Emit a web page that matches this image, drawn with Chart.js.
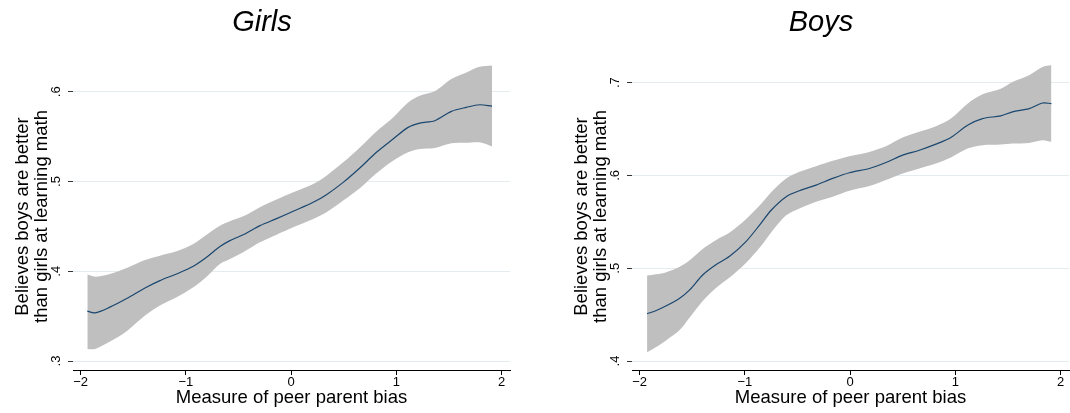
<!DOCTYPE html>
<html>
<head>
<meta charset="utf-8">
<script src="https://cdn.jsdelivr.net/npm/chart.js@4.4.1/dist/chart.umd.min.js"></script>
<style>
  html, body { margin: 0; padding: 0; background: #fff; }
  body { width: 1070px; height: 413px; overflow: hidden; position: relative; font-family: "Liberation Sans", Arial, Helvetica, sans-serif; }
  .panel { position: absolute; top: 0; width: 520px; height: 413px; }
  .panel canvas { position: absolute; left: 0; top: 0; }
  .ptitle { position: absolute; top: 7px; left: 162px; width: 200px; text-align: center; font-style: italic; font-size: 29px; line-height: 29px; color: #000; }
</style>
</head>
<body>
<div class="panel" style="left:0px;">
  <canvas id="girls" width="520" height="413"></canvas>
  <div class="ptitle">Girls</div>
</div>
<div class="panel" style="left:559px;">
  <canvas id="boys" width="520" height="413"></canvas>
  <div class="ptitle">Boys</div>
</div>
<script>
// ---- Data ----
const xTickValues = [-2, -1, 0, 1, 2];
const xTickLabels = ['\u22122', '\u22121', '0', '1', '2'];
const girlsYTicks = [0.3, 0.4, 0.5, 0.6];
const boysYTicks = [0.4, 0.5, 0.6, 0.7];

const xTitle = 'Measure of peer parent bias';
const yTitle = ['Believes boys are better', 'than girls at learning math'];

const girlsX = [-1.937, -1.864, -1.722, -1.563, -1.389, -1.247, -1.089, -0.930, -0.804, -0.677, -0.582, -0.440, -0.297, -0.139, 0.019, 0.209, 0.335, 0.494, 0.652, 0.810, 0.968, 1.111, 1.222, 1.364, 1.522, 1.665, 1.791, 1.908];
const girlsFit = [0.3555, 0.3536, 0.3600, 0.3696, 0.3814, 0.3896, 0.3970, 0.4056, 0.4156, 0.4275, 0.4341, 0.4416, 0.4508, 0.4586, 0.4668, 0.4768, 0.4853, 0.4990, 0.5150, 0.5325, 0.5473, 0.5603, 0.5651, 0.5677, 0.5781, 0.5826, 0.5855, 0.5840];
const girlsUpper = [0.3963, 0.3940, 0.3970, 0.4037, 0.4126, 0.4174, 0.4223, 0.4304, 0.4408, 0.4508, 0.4557, 0.4620, 0.4712, 0.4798, 0.4879, 0.4972, 0.5065, 0.5213, 0.5380, 0.5558, 0.5714, 0.5881, 0.5955, 0.6004, 0.6141, 0.6215, 0.6278, 0.6293];
const girlsLower = [0.3135, 0.3135, 0.3217, 0.3332, 0.3506, 0.3618, 0.3710, 0.3822, 0.3940, 0.4082, 0.4137, 0.4223, 0.4323, 0.4408, 0.4490, 0.4583, 0.4657, 0.4787, 0.4924, 0.5091, 0.5232, 0.5325, 0.5362, 0.5373, 0.5425, 0.5432, 0.5436, 0.5391];

const boysX = [-1.930, -1.842, -1.747, -1.620, -1.525, -1.399, -1.273, -1.146, -0.988, -0.861, -0.751, -0.608, -0.482, -0.324, -0.166, -0.008, 0.182, 0.340, 0.498, 0.657, 0.815, 0.957, 1.115, 1.257, 1.431, 1.542, 1.700, 1.827, 1.912];
const boysFit = [0.4509, 0.4545, 0.4595, 0.4677, 0.4767, 0.4930, 0.5040, 0.5128, 0.5290, 0.5465, 0.5625, 0.5771, 0.5835, 0.5896, 0.5968, 0.6029, 0.6075, 0.6140, 0.6219, 0.6272, 0.6337, 0.6409, 0.6541, 0.6613, 0.6642, 0.6685, 0.6720, 0.6781, 0.6774];
const boysUpper = [0.4921, 0.4935, 0.4957, 0.5015, 0.5085, 0.5210, 0.5305, 0.5385, 0.5530, 0.5675, 0.5820, 0.5968, 0.6039, 0.6100, 0.6158, 0.6208, 0.6254, 0.6315, 0.6409, 0.6470, 0.6530, 0.6613, 0.6774, 0.6875, 0.6935, 0.7007, 0.7079, 0.7168, 0.7190];
const boysLower = [0.4093, 0.4151, 0.4225, 0.4334, 0.4470, 0.4650, 0.4790, 0.4900, 0.5060, 0.5220, 0.5385, 0.5570, 0.5645, 0.5717, 0.5771, 0.5835, 0.5885, 0.5950, 0.6022, 0.6075, 0.6129, 0.6194, 0.6290, 0.6326, 0.6333, 0.6344, 0.6351, 0.6380, 0.6362];

// ---- Chart ----
Chart.defaults.font.family = '"Liberation Sans", Arial, Helvetica, sans-serif';
Chart.defaults.color = '#000';

function pts(xs, ys) { return xs.map((x, i) => ({ x: x, y: ys[i] })); }

function makeChart(id, xs, fit, up, lo, yTicks, yMin, yMax) {
  return new Chart(document.getElementById(id), {
    type: 'line',
    data: {
      datasets: [
        { label: 'fit', data: pts(xs, fit), borderColor: '#1a476f', borderWidth: 1.2, pointRadius: 0, fill: false, tension: 0.3 },
        { label: 'upper', data: pts(xs, up), borderWidth: 0, borderColor: 'rgba(0,0,0,0)', backgroundColor: '#bfbfbf', pointRadius: 0, fill: '+1', tension: 0.3 },
        { label: 'lower', data: pts(xs, lo), borderWidth: 0, borderColor: 'rgba(0,0,0,0)', pointRadius: 0, fill: false, tension: 0.3 }
      ]
    },
    options: {
      responsive: false,
      animation: false,
      devicePixelRatio: 1,
      layout: { padding: { top: 63, right: 10, bottom: 0, left: 0 } },
      plugins: { legend: { display: false }, tooltip: { enabled: false }, title: { display: false } },
      scales: {
        x: {
          type: 'linear',
          min: -2.073, max: 2.079,
          afterBuildTicks: s => { s.ticks = xTickValues.map(v => ({ value: v })); },
          afterFit: s => { s.height = 43; },
          ticks: {
            autoSkip: false, maxRotation: 0, minRotation: 0, padding: 0,
            font: { size: 13 },
            callback: v => xTickLabels[xTickValues.indexOf(v)]
          },
          grid: { display: true, drawOnChartArea: false, drawTicks: true, tickLength: 5, tickColor: '#000', tickWidth: 1 },
          border: { display: true, color: '#000', width: 1 },
          title: { display: true, text: xTitle, font: { size: 18.5, lineHeight: 1 }, padding: { top: 0, bottom: 6 } }
        },
        y: {
          type: 'linear',
          min: yMin, max: yMax,
          afterBuildTicks: s => { s.ticks = yTicks.map(v => ({ value: v })); },
          afterFit: s => { s.width = 73; },
          ticks: {
            autoSkip: false, minRotation: 90, maxRotation: 90, crossAlign: 'center', padding: 6,
            font: { size: 13 },
            callback: v => v.toFixed(1).replace(/^0/, '')
          },
          grid: { color: '#e4ecef', lineWidth: 1, drawTicks: true, tickLength: 5, tickColor: '#333', tickWidth: 1 },
          border: { display: false },
          title: { display: true, text: yTitle, font: { size: 18.5, lineHeight: 1 }, padding: { top: 14, bottom: 0 } }
        }
      }
    }
  });
}

makeChart('girls', girlsX, girlsFit, girlsUpper, girlsLower, girlsYTicks, 0.29, 0.632);
makeChart('boys', boysX, boysFit, boysUpper, boysLower, boysYTicks, 0.3903, 0.7212);
</script>
</body>
</html>
